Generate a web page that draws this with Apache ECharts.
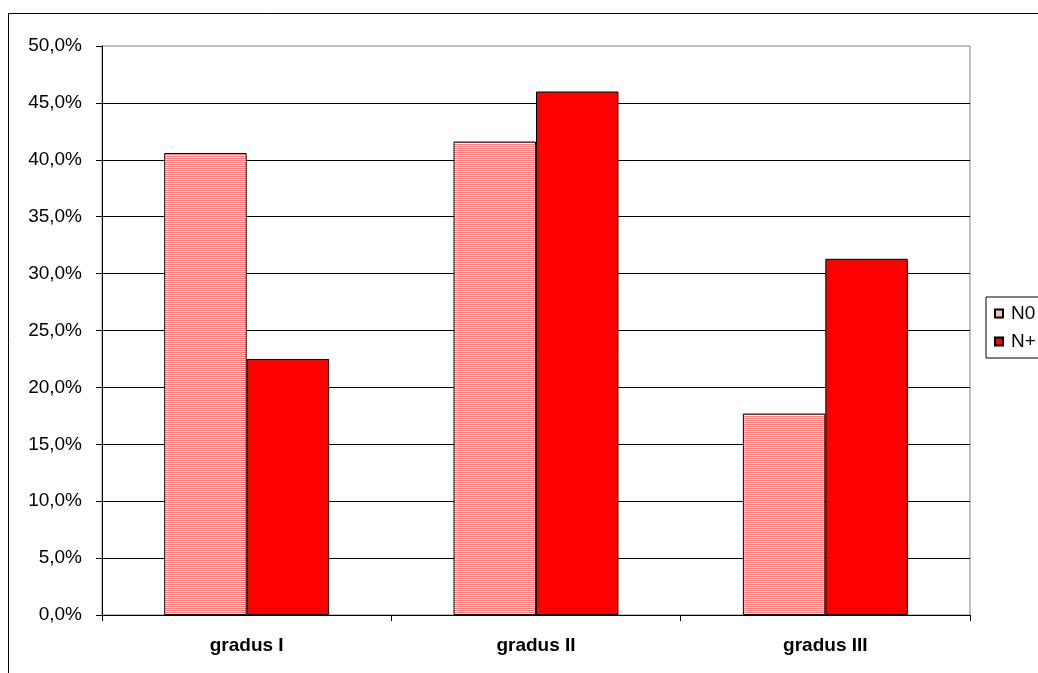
<!DOCTYPE html>
<html>
<head>
<meta charset="utf-8">
<script src="https://cdn.jsdelivr.net/npm/echarts@6/dist/echarts.min.js"></script>
<style>
html,body{margin:0;padding:0;background:#fff;}
#c{width:1038px;height:673px;}
</style>
</head>
<body>
<div id="c"></div>
<script>
const categories = ['gradus I', 'gradus II', 'gradus III'];
const seriesNames = ['N0', 'N+'];
const n0Values = [40.6, 41.6, 17.7];
const nPlusValues = [22.5, 46.0, 31.3];

const pc = document.createElement('canvas');
pc.width = 4; pc.height = 2;
const ctx = pc.getContext('2d');
ctx.fillStyle = '#ff7a7a'; ctx.fillRect(0, 0, 4, 1);
ctx.fillStyle = '#ffffff'; ctx.fillRect(0, 1, 4, 1);
const stripe = { image: pc, repeat: 'repeat' };

const chart = echarts.init(document.getElementById('c'), null, { renderer: 'canvas' });
const font = 'Liberation Sans, Arial, sans-serif';
chart.setOption({
  animation: false,
  backgroundColor: '#fff',
  textStyle: { fontFamily: font },
  graphic: [{
    type: 'rect', shape: { x: 8.5, y: 13.5, width: 1200, height: 800 },
    style: { fill: null, stroke: '#000', lineWidth: 1 }, silent: true, z: 100
  }],
  grid: { left: 102, right: 68, top: 46, bottom: 58, show: true, borderColor: '#808080', borderWidth: 1, backgroundColor: 'transparent' },
  legend: {
    left: 986, top: 297, orient: 'vertical',
    data: seriesNames,
    icon: 'rect', itemWidth: 8, itemHeight: 8, itemGap: 9,
    padding: [7, 40, 7, 8],
    borderColor: '#000', borderWidth: 1,
    textStyle: { fontFamily: font, fontSize: 19, color: '#000', padding: [0,0,0,3] }
  },
  xAxis: {
    type: 'category', data: categories,
    axisLine: { lineStyle: { color: '#000', width: 1 } },
    axisTick: { show: true, length: 6, lineStyle: { color: '#000' } },
    axisLabel: { fontFamily: font, fontSize: 19, fontWeight: 'bold', color: '#000', margin: 21 }
  },
  yAxis: {
    type: 'value', min: 0, max: 50, interval: 5,
    axisLine: { show: true, lineStyle: { color: '#000', width: 1 } },
    axisTick: { show: true, length: 6, lineStyle: { color: '#000' } },
    splitLine: { show: true, showMaxLine: false, lineStyle: { color: '#000', width: 1 } },
    axisLabel: { fontFamily: font, fontSize: 19, color: '#000', margin: 20,
      formatter: v => v.toFixed(1).replace('.', ',') + '%' }
  },
  series: [
    { name: seriesNames[0], type: 'bar', data: n0Values, barGap: '0%', barCategoryGap: '43%',
      itemStyle: { color: stripe, borderColor: '#000', borderWidth: 1 } },
    { name: seriesNames[1], type: 'bar', data: nPlusValues, barGap: '0%', barCategoryGap: '43%',
      itemStyle: { color: '#ff0000', borderColor: '#000', borderWidth: 1 } }
  ]
});
</script>
</body>
</html>
